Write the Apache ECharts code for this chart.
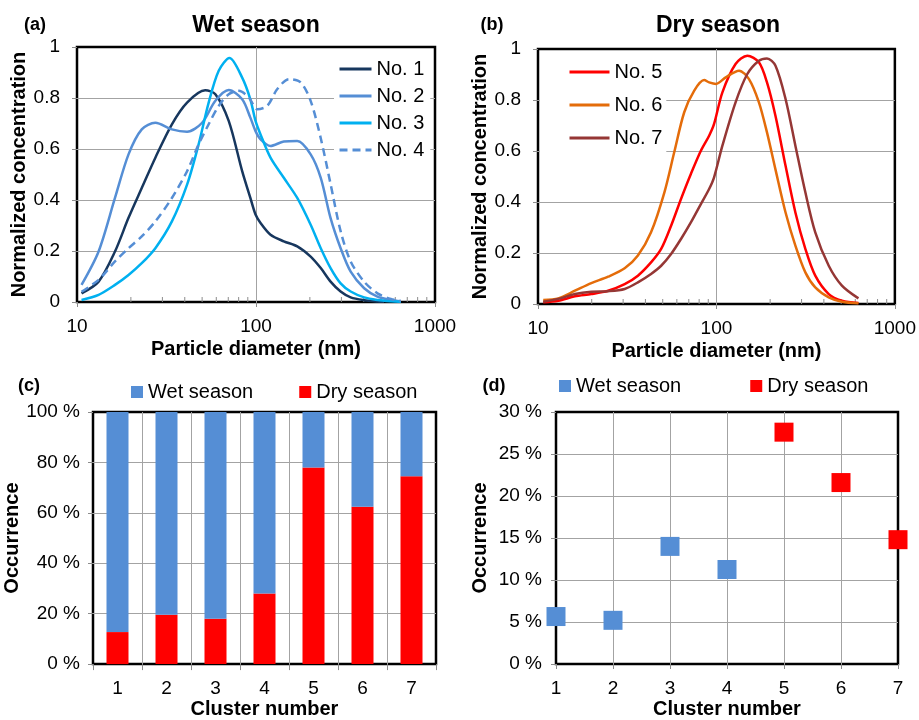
<!DOCTYPE html>
<html><head><meta charset="utf-8">
<script src="https://cdn.jsdelivr.net/npm/echarts@6/dist/echarts.min.js"></script>
<style>html,body{margin:0;padding:0;background:#fff}#c{width:919px;height:720px}</style>
</head><body><div id="c"></div>
<script>
// ---------- DATA ----------
// (a) Wet season: [diameter nm, normalized concentration]
const no1 = [[10.6,0.034],[13.2,0.08],[16.3,0.198],[19.4,0.33],[23,0.447],[27.4,0.566],[33.9,0.697],[41.2,0.782],[52,0.83],[59.3,0.815],[70.4,0.71],[83.7,0.513],[93,0.408],[99.4,0.343],[106,0.31],[120.5,0.264],[143,0.238],[170,0.218],[202,0.178],[230,0.133],[261,0.08],[297,0.041],[338,0.018],[402,0.007],[477,0.002],[520,0.001]];
const no2 = [[10.6,0.067],[13.2,0.198],[16.3,0.408],[19.4,0.579],[23,0.677],[27.4,0.703],[33.9,0.677],[41.2,0.668],[50,0.703],[59.3,0.789],[70.4,0.831],[83.7,0.795],[93,0.723],[99.4,0.67],[106,0.638],[120.5,0.612],[143,0.629],[170,0.631],[202,0.579],[230,0.487],[261,0.329],[297,0.211],[338,0.119],[402,0.054],[477,0.021],[567,0.008],[645,0.003]];
const no3 = [[10.6,0.008],[13.2,0.028],[16.3,0.067],[19.4,0.106],[23,0.152],[27.4,0.211],[33.9,0.316],[41.2,0.46],[47.8,0.618],[54.4,0.782],[61.9,0.907],[71.1,0.957],[83.7,0.88],[93,0.795],[99.4,0.71],[106,0.657],[120.5,0.566],[143,0.487],[170,0.408],[202,0.303],[230,0.211],[261,0.133],[297,0.073],[338,0.041],[402,0.018],[477,0.008],[567,0.003],[645,0.001]];
const no4 = [[10.6,0.04],[13.2,0.087],[16.3,0.159],[19.4,0.211],[23,0.257],[27.4,0.316],[33.9,0.408],[41.2,0.513],[47.8,0.618],[54.4,0.697],[61.9,0.769],[70.4,0.815],[80.1,0.828],[91.2,0.802],[101.6,0.756],[115.6,0.769],[131.5,0.835],[152.8,0.874],[177.6,0.861],[201.9,0.789],[229.7,0.644],[261.3,0.461],[297.2,0.277],[338,0.159],[401.6,0.08],[477,0.034],[567,0.012],[645,0.004]];
// (b) Dry season
const no5 = [[10.7,0.007],[13,0.013],[16.1,0.03],[19.9,0.039],[24.7,0.052],[30.6,0.078],[36.3,0.111],[43,0.163],[49,0.216],[55.7,0.307],[63.3,0.412],[71.9,0.51],[81.8,0.601],[91,0.66],[97,0.706],[108,0.83],[128,0.941],[149,0.974],[173,0.948],[192,0.869],[214,0.739],[244,0.542],[277,0.359],[315,0.216],[358,0.111],[426,0.039],[505,0.013],[625,0.004]];
const no6 = [[10.7,0.016],[13,0.022],[16.1,0.052],[19.9,0.082],[24.7,0.107],[30.6,0.14],[36.3,0.19],[43,0.281],[51.1,0.438],[58,0.595],[66,0.752],[75.1,0.837],[85.4,0.878],[91,0.869],[99.5,0.863],[112.8,0.889],[133.9,0.915],[152.2,0.882],[173,0.791],[192,0.673],[214,0.529],[244,0.359],[277,0.229],[315,0.124],[358,0.065],[426,0.026],[505,0.009],[625,0.003]];
const no7 = [[10.7,0.009],[13,0.02],[16.1,0.039],[19.9,0.048],[24.7,0.05],[30.6,0.059],[36.3,0.085],[43,0.118],[49,0.15],[55.7,0.196],[63.3,0.255],[71.9,0.32],[81.8,0.392],[91,0.451],[97,0.497],[108,0.621],[128,0.791],[149,0.902],[173,0.954],[192,0.963],[214,0.935],[244,0.804],[277,0.621],[315,0.438],[358,0.281],[426,0.15],[505,0.072],[625,0.022]];
const minorTicks = [20,30,40,50,60,70,80,90,200,300,400,500,600,700,800,900];
// (c) share of occurrence per cluster
const clusters = ['1','2','3','4','5','6','7'];
const dryShare = [12.7, 19.6, 18.0, 28.0, 78.0, 62.4, 74.5];
const wetShare = [87.3, 80.4, 82.0, 72.0, 22.0, 37.6, 25.5];
// (d) occurrence of each cluster
const wetClusters = [1, 2, 3, 4];
const wetOcc = [5.65, 5.2, 14.0, 11.25];
const dryClusters = [5, 6, 7];
const dryOcc = [27.6, 21.6, 14.8];

// ---------- STYLE ----------
const FONT = '"Liberation Sans", Arial, sans-serif';
const GRIDC = '#a3a3a3';
const TICKC = '#8c8c8c';
const cBlue = '#558ED5', cRed = '#FF0000';

function split() { return {show:true, lineStyle:{color:GRIDC, width:1}, showMinLine:false, showMaxLine:false}; }
function lab(margin) { return {fontSize:19, color:'#000', fontFamily:FONT, margin:margin}; }
function nameStyle() { return {fontSize:20, fontWeight:'bold', color:'#000', fontFamily:FONT}; }
function tick(len) { return {show:true, length:len, lineStyle:{color:TICKC, width:1}}; }

const gridBase = {show:true, borderColor:'#000', borderWidth:2.5, backgroundColor:'rgba(0,0,0,0)', containLabel:false};

function logX(gi) {
  return {type:'log', logBase:10, gridIndex:gi, min:10, max:1000,
    axisLine:{show:false}, axisTick:tick(5), axisLabel:Object.assign(lab(15), {formatter: v => String(v)}), splitLine:split(),
    name:'Particle diameter (nm)', nameLocation:'middle', nameGap:37, nameTextStyle:nameStyle()};
}
function concY(gi) {
  return {type:'value', gridIndex:gi, min:0, max:1, interval:0.2,
    axisLine:{show:false}, axisTick:tick(5), axisLabel:lab(17), splitLine:split(),
    name:'Normalized concentration', nameLocation:'middle', nameGap:48, nameTextStyle:nameStyle()};
}
function lineS(name, data, color, gi, dash) {
  return {type:'line', name:name, xAxisIndex:gi, yAxisIndex:gi, data:data, symbol:'none', showSymbol:false,
    smooth:0.3, z:3, lineStyle:{color:color, width:2.5, type: dash || 'solid'}, itemStyle:{color:color}};
}
function minorS(gi) {
  return {type:'custom', xAxisIndex:gi, yAxisIndex:gi, silent:true, z:1,
    data: minorTicks.map(v => [v, 0]),
    renderItem: function(params, api) {
      const p = api.coord([api.value(0), 0]);
      return {type:'line', shape:{x1:p[0], y1:p[1], x2:p[0], y2:p[1]-5}, style:{stroke:TICKC, lineWidth:1}};
    }};
}
const legendText = {fontSize:20, color:'#000', fontFamily:FONT};

const option = {
  animation:false,
  backgroundColor:'#fff',
  textStyle:{fontFamily:FONT},
  grid:[
    Object.assign({left:77, top:47, width:358, height:255}, gridBase),
    Object.assign({left:538, top:49, width:359, height:255}, gridBase),
    Object.assign({left:93, top:412, width:343, height:255}, gridBase),
    Object.assign({left:556, top:412, width:342, height:255}, gridBase)
  ],
  xAxis:[
    logX(0), logX(1),
    {type:'category', gridIndex:2, data:clusters, boundaryGap:true,
      axisLine:{show:false}, axisTick:Object.assign(tick(6), {interval:0}), axisLabel:Object.assign(lab(15), {interval:0}),
      splitLine:Object.assign(split(), {interval:0}),
      name:'Cluster number', nameLocation:'middle', nameGap:34, nameTextStyle:nameStyle()},
    {type:'value', gridIndex:3, min:1, max:7, interval:1,
      axisLine:{show:false}, axisTick:tick(5), axisLabel:lab(15), splitLine:split(),
      name:'Cluster number', nameLocation:'middle', nameGap:35, nameTextStyle:nameStyle()}
  ],
  yAxis:[
    concY(0), concY(1),
    {type:'value', gridIndex:2, min:0, max:100, interval:20,
      axisLine:{show:false}, axisTick:tick(5), axisLabel:Object.assign(lab(13), {formatter:'{value} %'}), splitLine:split(),
      name:'Occurrence', nameLocation:'middle', nameGap:67, nameTextStyle:nameStyle()},
    {type:'value', gridIndex:3, min:0, max:30, interval:5,
      axisLine:{show:false}, axisTick:tick(5), axisLabel:Object.assign(lab(14), {formatter:'{value} %'}), splitLine:split(),
      name:'Occurrence', nameLocation:'middle', nameGap:66, nameTextStyle:nameStyle()}
  ],
  legend:[
    {data:['No. 1','No. 2','No. 3','No. 4'], orient:'vertical', left:334, top:55, padding:[4,6,4,4],
      itemGap:7, itemWidth:32, itemHeight:14, backgroundColor:'#fff', z:1,
      itemStyle:{opacity:0, borderWidth:0}, lineStyle:{width:3},
      textStyle:legendText},
    {data:['No. 5','No. 6','No. 7'], orient:'vertical', left:540, top:55, padding:[7,4,8,28],
      itemGap:13, itemWidth:40, itemHeight:14, backgroundColor:'#fff', z:1,
      itemStyle:{opacity:0, borderWidth:0}, lineStyle:{width:3},
      textStyle:legendText},
    {data:['Wet season','Dry season'], orient:'horizontal', left:131, top:382, padding:0,
      itemGap:46, itemWidth:12, itemHeight:12, icon:'rect', textStyle:legendText},
    {data:['Wet season','Dry season'], orient:'horizontal', left:559, top:376, padding:0,
      itemGap:69, itemWidth:12, itemHeight:12, icon:'rect', textStyle:legendText}
  ],
  graphic:[
    {type:'text', x:256, y:26, style:{text:'Wet season', font:'bold 23px ' + FONT, fill:'#000', align:'center', verticalAlign:'middle'}},
    {type:'text', x:718, y:26, style:{text:'Dry season', font:'bold 23px ' + FONT, fill:'#000', align:'center', verticalAlign:'middle'}},
    {type:'text', x:35, y:25, style:{text:'(a)', font:'bold 18px ' + FONT, fill:'#000', align:'center', verticalAlign:'middle'}},
    {type:'text', x:492, y:25, style:{text:'(b)', font:'bold 18px ' + FONT, fill:'#000', align:'center', verticalAlign:'middle'}},
    {type:'text', x:29, y:386, style:{text:'(c)', font:'bold 18px ' + FONT, fill:'#000', align:'center', verticalAlign:'middle'}},
    {type:'text', x:494, y:386, style:{text:'(d)', font:'bold 18px ' + FONT, fill:'#000', align:'center', verticalAlign:'middle'}}
  ],
  series:[
    minorS(0), minorS(1),
    lineS('No. 1', no1, '#17375E', 0),
    lineS('No. 2', no2, '#558ED5', 0),
    lineS('No. 3', no3, '#00B0F0', 0),
    lineS('No. 4', no4, '#558ED5', 0, [8,5]),
    lineS('No. 5', no5, '#FF0000', 1),
    lineS('No. 6', no6, '#E46C0A', 1),
    lineS('No. 7', no7, '#953735', 1),
    {type:'bar', name:'Dry season', stack:'occ', xAxisIndex:2, yAxisIndex:2, data:dryShare, barWidth:22, itemStyle:{color:cRed}},
    {type:'bar', name:'Wet season', stack:'occ', xAxisIndex:2, yAxisIndex:2, data:wetShare, barWidth:22, itemStyle:{color:cBlue}},
    {type:'scatter', name:'Wet season', xAxisIndex:3, yAxisIndex:3, data:wetClusters.map((k,i)=>[k, wetOcc[i]]),
      symbol:'rect', symbolSize:19, clip:false, z:4, itemStyle:{color:cBlue, opacity:1}},
    {type:'scatter', name:'Dry season', xAxisIndex:3, yAxisIndex:3, data:dryClusters.map((k,i)=>[k, dryOcc[i]]),
      symbol:'rect', symbolSize:19, clip:false, z:4, itemStyle:{color:cRed, opacity:1}}
  ]
};
const chart = echarts.init(document.getElementById('c'), null, {renderer:'canvas'});
chart.setOption(option);
</script>
</body></html>
